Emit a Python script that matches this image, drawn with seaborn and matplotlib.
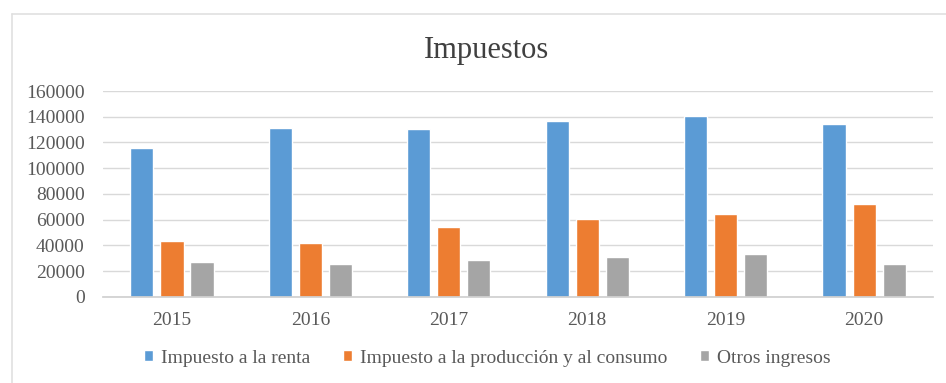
import matplotlib
matplotlib.use("Agg")
import matplotlib.pyplot as plt
import seaborn as sns
import pandas as pd
from matplotlib.lines import Line2D

years = ["2015", "2016", "2017", "2018", "2019", "2020"]
renta = [115500, 131500, 130500, 136700, 140600, 134000]
produccion = [43500, 42000, 54400, 60500, 64500, 72000]
otros = [27000, 25600, 28700, 31000, 33400, 25600]
series = ["Impuesto a la renta", "Impuesto a la producción y al consumo", "Otros ingresos"]
yticks = [0, 20000, 40000, 60000, 80000, 100000, 120000, 140000, 160000]

df = pd.DataFrame({
    "Año": years * 3,
    "Valor": renta + produccion + otros,
    "Serie": [series[0]] * 6 + [series[1]] * 6 + [series[2]] * 6,
})

sns.set_theme(style="white")
plt.rcParams["font.family"] = ["Liberation Serif", "DejaVu Serif"]

fig = plt.figure(figsize=(9.46, 3.83), dpi=100)
ax = fig.add_axes([0.1086, 0.2253, 0.878, 0.537])

palette = ["#5B9BD5", "#ED7D31", "#A5A5A5"]
sns.barplot(data=df, x="Año", y="Valor", hue="Serie", palette=palette,
            width=0.652, gap=0.23, ax=ax, saturation=1, legend=True)

ax.set_ylim(0, 160000)
ax.set_yticks(yticks)
ax.set_yticklabels([str(v) for v in yticks], color="#595959", fontsize=14)
ax.set_xticklabels(years, color="#595959", fontsize=14)
ax.yaxis.grid(True, color="#D9D9D9", linewidth=1)
ax.set_axisbelow(True)
for s in ["top", "right", "left"]:
    ax.spines[s].set_visible(False)
ax.spines["bottom"].set_color("#D0D0D0")
ax.tick_params(axis="y", length=0, pad=13)
ax.tick_params(axis="x", length=0, pad=11)
ax.set_xlabel("")
ax.set_ylabel("")

leg = ax.get_legend()
handles = leg.legend_handles
leg.remove()
fig.legend(handles, series, loc="center", bbox_to_anchor=(0.515, 0.065), ncol=3,
           frameon=False, fontsize=14, handlelength=0.45, handleheight=0.45,
           columnspacing=1.7, handletextpad=0.4, labelcolor="#595959")

fig.suptitle("Impuestos", x=0.514, y=0.905, fontsize=22, color="#404040")

fig.add_artist(Line2D([12 / 946, 12 / 946], [0, 1 - 14 / 383], transform=fig.transFigure,
                      color="#E0E0E0", linewidth=1.2))
fig.add_artist(Line2D([12 / 946, 1], [1 - 14 / 383, 1 - 14 / 383], transform=fig.transFigure,
                      color="#E0E0E0", linewidth=1.2))

fig.savefig("out.png", dpi=100)
